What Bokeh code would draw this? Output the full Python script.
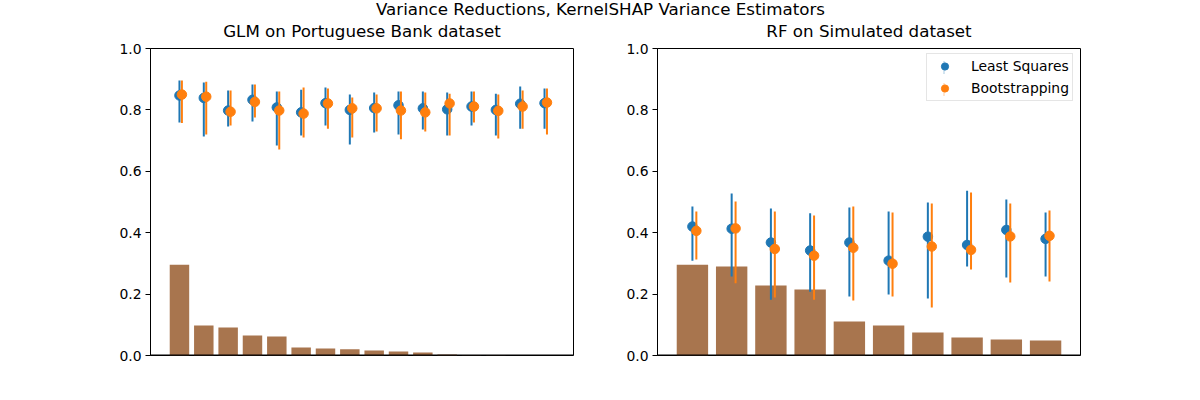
from bokeh.plotting import figure
from bokeh.layouts import column, row
from bokeh.models import Range1d, Label, Span, FixedTicker, PrintfTickFormatter, Legend, LegendItem
from bokeh.embed import file_html
from bokeh.resources import INLINE
import numpy as np

SUPTITLE = "Variance Reductions, KernelSHAP Variance Estimators"
TITLE_LEFT = "GLM on Portuguese Bank dataset"
TITLE_RIGHT = "RF on Simulated dataset"
SERIES = ["Least Squares", "Bootstrapping"]
YTICKS = [0.0, 0.2, 0.4, 0.6, 0.8, 1.0]

# Left panel (GLM, Portuguese Bank)
ls_left = [0.847, 0.839, 0.798, 0.833, 0.808, 0.792, 0.822, 0.800, 0.806, 0.815, 0.805, 0.802, 0.811, 0.800, 0.820, 0.822]
ls_left_lo = [0.759, 0.713, 0.746, 0.762, 0.684, 0.717, 0.749, 0.687, 0.726, 0.720, 0.736, 0.717, 0.749, 0.717, 0.739, 0.739]
ls_left_hi = [0.896, 0.889, 0.863, 0.883, 0.860, 0.866, 0.873, 0.850, 0.857, 0.860, 0.860, 0.857, 0.860, 0.853, 0.876, 0.870]
bs_left = [0.850, 0.843, 0.794, 0.826, 0.798, 0.788, 0.821, 0.805, 0.805, 0.798, 0.792, 0.821, 0.811, 0.797, 0.811, 0.824]
bs_left_lo = [0.757, 0.720, 0.749, 0.775, 0.671, 0.710, 0.739, 0.710, 0.730, 0.704, 0.730, 0.717, 0.759, 0.707, 0.739, 0.720]
bs_left_hi = [0.896, 0.892, 0.863, 0.883, 0.860, 0.873, 0.870, 0.840, 0.850, 0.860, 0.857, 0.853, 0.860, 0.850, 0.863, 0.870]
bars_left = [0.296, 0.098, 0.091, 0.065, 0.062, 0.026, 0.023, 0.020, 0.016, 0.013, 0.010, 0.003, 0.001, 0.0005, 0.0003, 0.0002]

# Right panel (RF, Simulated)
ls_right = [0.420, 0.413, 0.368, 0.342, 0.368, 0.309, 0.387, 0.360, 0.409, 0.380]
ls_right_lo = [0.309, 0.257, 0.182, 0.208, 0.192, 0.199, 0.186, 0.290, 0.254, 0.257]
ls_right_hi = [0.485, 0.528, 0.479, 0.463, 0.482, 0.469, 0.498, 0.537, 0.508, 0.466]
bs_right = [0.406, 0.414, 0.347, 0.325, 0.351, 0.299, 0.355, 0.344, 0.388, 0.390]
bs_right_lo = [0.313, 0.235, 0.189, 0.182, 0.179, 0.192, 0.156, 0.280, 0.238, 0.241]
bs_right_hi = [0.469, 0.502, 0.469, 0.456, 0.485, 0.466, 0.495, 0.531, 0.495, 0.472]
bars_right = [0.296, 0.290, 0.228, 0.215, 0.111, 0.098, 0.075, 0.059, 0.052, 0.049]

BLUE = "#1f77b4"
ORANGE = "#ff7f0e"
BROWN = "#a8754e"
FONT = "DejaVu Sans"

TOP_H = 40          # height of the strip holding the titles
BT = 8              # top border of the panels (room for the "1.0" label)
FW, FH = 423, 307   # frame size

# legend layout (frame pixels)
LG_PAD, LG_GW, LG_GH, LG_SP = 3, 29, 18, 4
LG_LEFT, LG_TOP = 269, 7
LG_H = 2 * LG_GH + LG_SP + 2 * LG_PAD


def panel(bars, ls, ls_lo, ls_hi, bs, bs_lo, bs_hi, bl, br, legend=False):
    n = len(bars)
    x = np.arange(n)
    lo_edge, hi_edge = -0.4, n - 1 + 0.4
    pad = 0.05 * (hi_edge - lo_edge)
    p = figure(width=bl + FW + br, height=BT + FH + 45,
               x_range=Range1d(lo_edge - pad, hi_edge + pad), y_range=Range1d(0, 1),
               output_backend="svg", toolbar_location=None,
               min_border_left=bl, min_border_right=br, min_border_top=BT, min_border_bottom=45)
    p.xgrid.visible = False
    p.ygrid.visible = False
    p.xaxis.visible = False
    p.outline_line_color = "black"
    p.outline_line_width = 1
    p.yaxis.ticker = FixedTicker(ticks=YTICKS, minor_ticks=[])
    p.yaxis.formatter = PrintfTickFormatter(format="%.1f")
    p.yaxis.major_label_text_font = FONT
    p.yaxis.major_label_text_font_size = "13.9px"
    p.yaxis.major_label_text_color = "black"
    p.yaxis.major_tick_out = 5
    p.yaxis.major_tick_in = 0
    p.yaxis.minor_tick_line_color = None
    p.yaxis.axis_line_color = "black"
    p.yaxis.major_tick_line_color = "black"
    p.yaxis.major_label_standoff = 4

    p.vbar(x=x, top=bars, width=0.8, fill_color=BROWN, line_color=None)
    p.add_layout(Span(location=0, dimension="width", line_color="black", line_width=2))

    rends = []
    for xs, c, lo, hi, col in [(x, ls, ls_lo, ls_hi, BLUE), (x + 0.1, bs, bs_lo, bs_hi, ORANGE)]:
        p.segment(x0=xs, y0=lo, x1=xs, y1=hi, line_color=col, line_width=2)
        rc = p.scatter(x=xs, y=c, size=9.5, fill_color=col, line_color=col)
        rends.append(rc)

    if legend:
        items = [LegendItem(label=name, renderers=[r]) for name, r in zip(SERIES, rends)]
        lg = Legend(items=items, location=(LG_LEFT, FH - LG_TOP - LG_H), margin=0,
                    padding=LG_PAD, spacing=LG_SP,
                    glyph_height=LG_GH, glyph_width=LG_GW, label_height=LG_GH, label_standoff=12,
                    label_text_font=FONT, label_text_font_size="13.9px", label_text_color="black",
                    border_line_color="#cccccc", border_line_width=1,
                    background_fill_color="white", background_fill_alpha=0.8)
        p.add_layout(lg)
        # vertical error-bar strokes of the legend keys (frame pixel coordinates)
        p.extra_x_ranges = {"px": Range1d(0, FW)}
        p.extra_y_ranges = {"py": Range1d(FH, 0)}
        kx = [LG_LEFT + LG_PAD + LG_GW / 2] * 2
        ky = [LG_TOP + LG_PAD + LG_GH / 2 + i * (LG_GH + LG_SP) for i in range(2)]
        p.segment(x0=kx, x1=kx, y0=[k - 6.5 for k in ky], y1=[k + 6.5 for k in ky],
                  line_color=[BLUE, ORANGE], line_width=2,
                  x_range_name="px", y_range_name="py", level="overlay")
    return p


pl = panel(bars_left, ls_left, ls_left_lo, ls_left_hi, bs_left, bs_left_lo, bs_left_hi, 150, 42)
pr = panel(bars_right, ls_right, ls_right_lo, ls_right_hi, bs_right, bs_right_lo, bs_right_hi, 42, 120, legend=True)

# title strip: coordinates in pixels of the page (y downwards)
pt = figure(width=1200, height=TOP_H, x_range=Range1d(0, 1200), y_range=Range1d(TOP_H, 0),
            output_backend="svg", toolbar_location=None,
            min_border_left=0, min_border_right=0, min_border_top=0, min_border_bottom=0)
pt.axis.visible = False
pt.grid.visible = False
pt.outline_line_color = None
for txt, xc, yb in [(SUPTITLE, 600, 8), (TITLE_LEFT, 150 + FW / 2, 30), (TITLE_RIGHT, 657 + FW / 2, 30)]:
    pt.add_layout(Label(x=xc, y=yb, text=txt, text_align="center",
                        text_baseline="alphabetic", text_font=FONT, text_font_size="16.7px",
                        text_color="black"))

layout = column(pt, row(pl, pr, spacing=0), spacing=0)
open("out.html", "w").write(file_html(layout, INLINE))
